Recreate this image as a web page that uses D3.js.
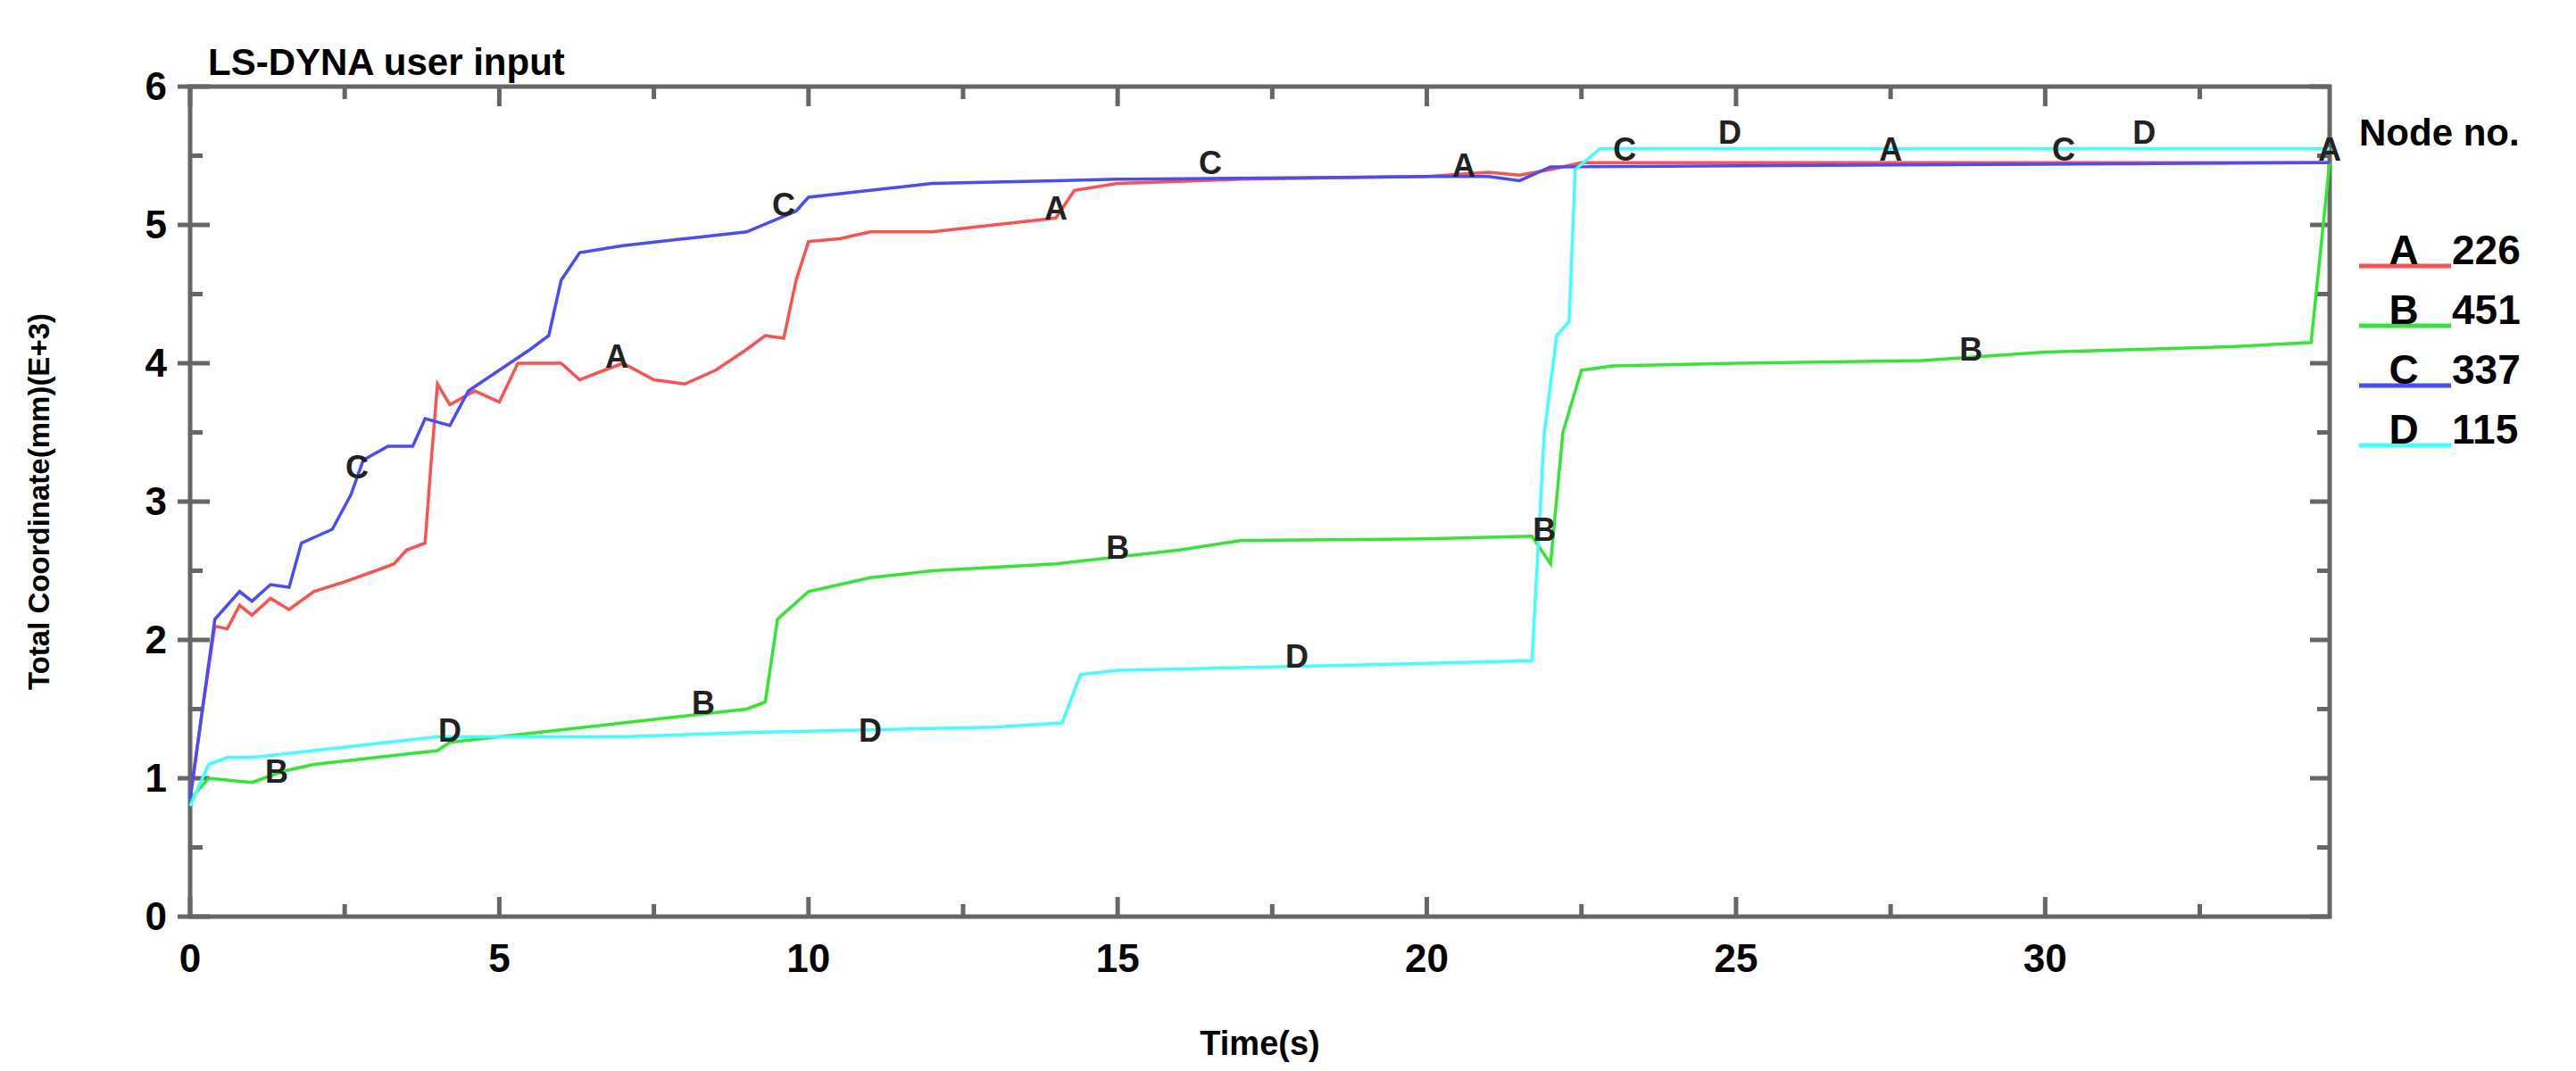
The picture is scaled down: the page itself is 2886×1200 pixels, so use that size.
<!DOCTYPE html>
<html><head><meta charset="utf-8">
<script src="https://cdn.jsdelivr.net/npm/d3@7"></script>
<style>body{margin:0;background:#fff}text{font-family:"Liberation Sans",Arial,sans-serif;font-weight:bold}</style>
</head><body><svg id="svg" width="2886" height="1200"></svg>
<script>
const seriesA = [[0,0.85],[0.2,1.5],[0.4,2.1],[0.6,2.08],[0.8,2.25],[1,2.18],[1.3,2.3],[1.6,2.22],[2,2.35],[2.5,2.42],[3,2.5],[3.3,2.55],[3.5,2.65],[3.8,2.7],[3.9,3.3],[4,3.85],[4.2,3.7],[4.6,3.8],[5,3.72],[5.3,4.0],[6,4.0],[6.3,3.88],[6.7,3.95],[7,4.0],[7.5,3.88],[8,3.85],[8.5,3.95],[9,4.1],[9.3,4.2],[9.6,4.18],[9.8,4.6],[10,4.88],[10.5,4.9],[11,4.95],[12,4.95],[13,5.0],[14,5.05],[14.3,5.25],[15,5.3],[17,5.33],[20,5.35],[21,5.38],[21.5,5.36],[22,5.4],[22.5,5.45],[34.6,5.45]];
const seriesB = [[0,0.85],[0.3,1.0],[1,0.97],[1.5,1.05],[2,1.1],[3,1.15],[4,1.2],[4.2,1.26],[5,1.3],[6,1.35],[7,1.4],[8,1.45],[9,1.5],[9.3,1.55],[9.5,2.15],[10,2.35],[11,2.45],[12,2.5],[14,2.55],[15,2.6],[16,2.65],[17,2.72],[20,2.73],[21.7,2.75],[22,2.55],[22.2,3.5],[22.5,3.95],[23,3.98],[25,4.0],[28,4.02],[30,4.08],[33,4.12],[34.3,4.15],[34.6,5.45]];
const seriesC = [[0,0.85],[0.2,1.5],[0.4,2.15],[0.6,2.25],[0.8,2.35],[1,2.28],[1.3,2.4],[1.6,2.38],[1.8,2.7],[2.3,2.8],[2.6,3.05],[2.8,3.3],[3.2,3.4],[3.6,3.4],[3.8,3.6],[4.2,3.55],[4.5,3.8],[5,3.95],[5.5,4.1],[5.8,4.2],[6,4.6],[6.3,4.8],[7,4.85],[8,4.9],[9,4.95],[9.8,5.1],[10,5.2],[11,5.25],[12,5.3],[14,5.32],[15,5.33],[20,5.35],[21,5.35],[21.5,5.32],[22,5.42],[34.6,5.45]];
const seriesD = [[0,0.8],[0.3,1.1],[0.6,1.15],[1,1.15],[2,1.2],[3,1.25],[4,1.3],[5,1.3],[7,1.3],[9,1.33],[11,1.35],[13,1.37],[14.1,1.4],[14.4,1.75],[15,1.78],[17,1.8],[20,1.83],[21.7,1.85],[21.9,3.5],[22.1,4.2],[22.3,4.3],[22.4,5.4],[22.8,5.55],[34.6,5.55]];
const curveLabels = {
  A: [[6.9,4.0],[14.0,5.07],[20.6,5.38],[27.5,5.5],[34.6,5.5]],
  B: [[1.4,1.0],[8.3,1.5],[15,2.62],[21.9,2.75],[28.8,4.05]],
  C: [[2.7,3.2],[9.6,5.1],[16.5,5.4],[23.2,5.5],[30.3,5.5]],
  D: [[4.2,1.3],[11,1.3],[17.9,1.83],[24.9,5.62],[31.6,5.62]]
};
const names = ["A","B","C","D"];
const nodes = ["226","451","337","115"];
const colors = ["#ff5050","#30e830","#4a4aff","#40ffff"];
const data = [seriesA, seriesB, seriesC, seriesD];

const svg = d3.select("#svg");
const L = 213, R = 2610, T = 97, B = 1027;
const x = d3.scaleLinear().domain([0, 34.6]).range([L, R]);
const y = d3.scaleLinear().domain([0, 6]).range([B, T]);
const ax = "#666";

// frame
svg.append("rect").attr("x", L).attr("y", T).attr("width", R - L).attr("height", B - T)
  .attr("fill", "none").attr("stroke", ax).attr("stroke-width", 5);

// ticks
const g = svg.append("g");
d3.range(0, 34, 2.5).forEach(v => {
  const len = v % 5 === 0 ? 22 : 14;
  g.append("line").attr("x1", x(v)).attr("x2", x(v)).attr("y1", B).attr("y2", B - len).attr("stroke", ax).attr("stroke-width", 5);
  g.append("line").attr("x1", x(v)).attr("x2", x(v)).attr("y1", T).attr("y2", T + len).attr("stroke", ax).attr("stroke-width", 5);
  if (v % 5 === 0) g.append("text").attr("x", x(v)).attr("y", B + 62).attr("text-anchor", "middle").attr("font-size", 44).text(v);
});
d3.range(0, 6.01, 0.5).forEach(v => {
  const len = v % 1 === 0 ? 22 : 14;
  g.append("line").attr("x1", L - (v % 1 === 0 ? 14 : 0)).attr("x2", L + len).attr("y1", y(v)).attr("y2", y(v)).attr("stroke", ax).attr("stroke-width", 5);
  g.append("line").attr("x1", R).attr("x2", R - len).attr("y1", y(v)).attr("y2", y(v)).attr("stroke", ax).attr("stroke-width", 5);
  if (v % 1 === 0) g.append("text").attr("x", L - 26).attr("y", y(v) + 15).attr("text-anchor", "end").attr("font-size", 44).text(v);
});

const line = d3.line().x(d => x(d[0])).y(d => y(d[1]));
data.forEach((s, i) => {
  svg.append("path").datum(s).attr("d", line).attr("fill", "none").attr("stroke", colors[i]).attr("stroke-width", 3.5);
});
names.forEach(n => {
  curveLabels[n].forEach(p => {
    svg.append("text").attr("x", x(p[0])).attr("y", y(p[1]) + 5).attr("text-anchor", "middle")
      .attr("font-size", 36).attr("font-weight", "normal").attr("fill", "#222").text(n);
  });
});

svg.append("text").attr("x", L + 20).attr("y", 84).attr("font-size", 42).text("LS-DYNA user input");
svg.append("text").attr("x", (L + R) / 2).attr("y", 1182).attr("text-anchor", "middle").attr("font-size", 38).text("Time(s)");
svg.append("text").attr("transform", `translate(55,${(T + B) / 2}) rotate(-90)`).attr("text-anchor", "middle").attr("font-size", 33).text("Total Coordinate(mm)(E+3)");

// legend
svg.append("text").attr("x", 2643).attr("y", 163).attr("font-size", 42).text("Node no.");
names.forEach((n, i) => {
  const yy = 298 + i * 67;
  svg.append("line").attr("x1", 2643).attr("x2", 2746).attr("y1", yy).attr("y2", yy).attr("stroke", colors[i]).attr("stroke-width", 5);
  svg.append("text").attr("x", 2693).attr("y", yy - 2).attr("text-anchor", "middle").attr("font-size", 46).text(n);
  svg.append("text").attr("x", 2747).attr("y", yy - 2).attr("font-size", 46).text(nodes[i]);
});
</script></body></html>
